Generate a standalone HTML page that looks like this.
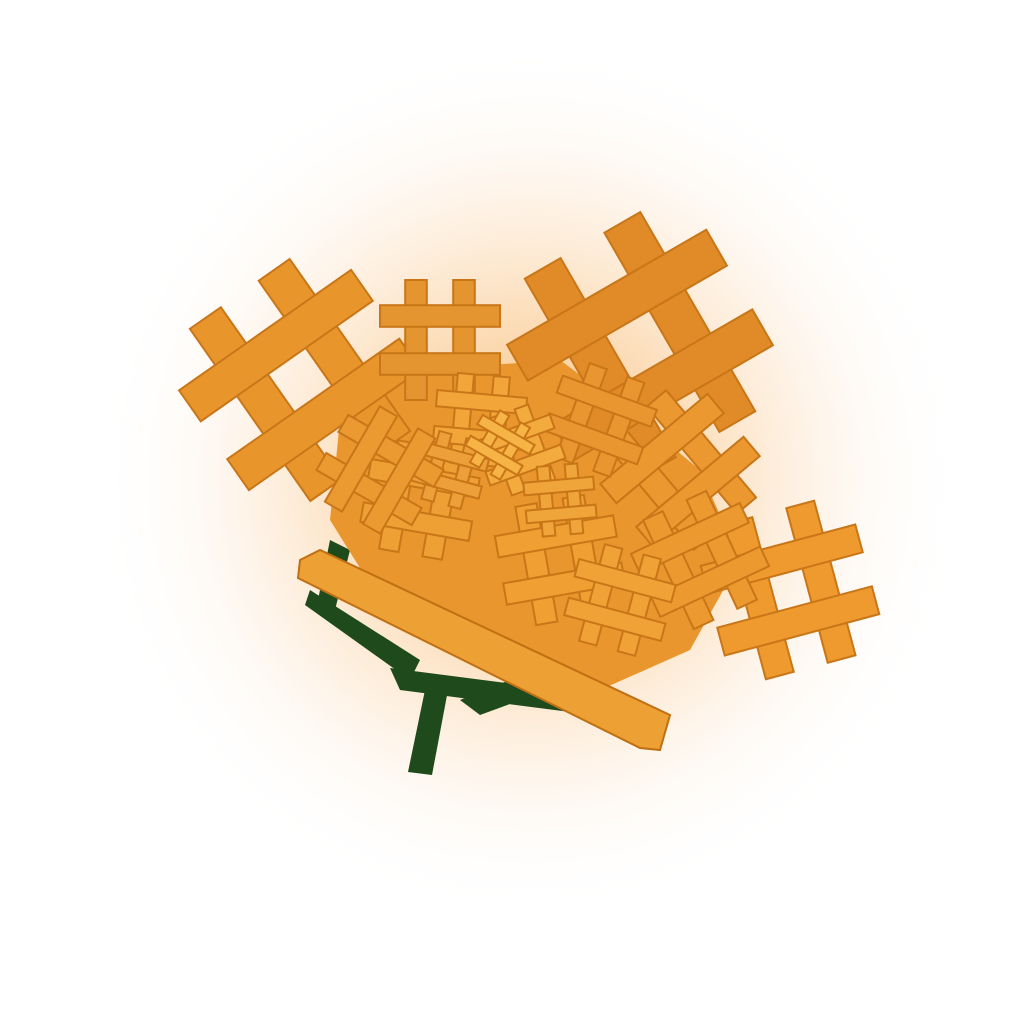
<!DOCTYPE html>
<html>
<head>
<meta charset="utf-8">
<style>
html,body{margin:0;padding:0;background:#fff;}
svg{display:block;}
</style>
</head>
<body>
<svg id="scene" width="1024" height="1024" viewBox="0 0 1024 1024" xmlns="http://www.w3.org/2000/svg">
  <defs>
    <radialGradient id="glow" cx="530" cy="480" r="440" gradientUnits="userSpaceOnUse">
      <stop offset="0" stop-color="#f6b060" stop-opacity="0.9"/>
      <stop offset="0.4" stop-color="#fbd3a4" stop-opacity="0.7"/>
      <stop offset="0.7" stop-color="#fdeede" stop-opacity="0.5"/>
      <stop offset="1" stop-color="#ffffff" stop-opacity="0"/>
    </radialGradient>
  </defs>
  <rect width="1024" height="1024" fill="#ffffff"/>
  <ellipse cx="530" cy="480" rx="460" ry="420" fill="url(#glow)"/>
  <g id="stem" fill="#1f4a1c">
    <polygon points="425,690 448,690 432,775 408,772"/>
    <polygon points="390,668 560,690 570,712 400,690"/>
    <polygon points="310,590 420,660 410,680 305,605"/>
    <polygon points="460,700 560,660 575,680 480,715"/>
    <polygon points="330,540 350,550 335,610 318,600"/>
  </g>
  <polygon points="340,420 420,370 560,360 640,420 700,470 740,560 690,650 600,690 520,680 440,640 380,600 330,520" fill="#e9962e"/>
  <g id="petals"></g>
</svg>
<script>
// petal hashes: centre x, centre y, size, rotation
const petalX = [300, 640, 790, 440, 680, 420, 560, 600, 480, 520, 450, 560, 500, 700, 380, 620];
const petalY = [380, 345, 590, 340, 470, 500, 560, 420, 420, 450, 470, 500, 445, 560, 470, 600];
const petalS = [210, 230, 160, 120, 140, 110, 120, 100, 90, 80, 70, 70, 60, 120, 110, 100];
const petalR = [-35, -30, -15, 0, -40, 10, -10, 20, 5, -20, 15, -5, 30, -25, -60, 15];
const petalC = ["#e8962c","#e08a28","#ee9a2e","#e59530","#ea982f","#efa035","#f0a032","#e99530","#f2a63a","#f4ab3e","#eda03a","#f0a53a","#f6b446","#ec9a30","#eb9a32","#f0a236"];

const NS = "http://www.w3.org/2000/svg";
const g = document.getElementById("petals");
function rect(parent, x, y, w, h, fill){
  const r = document.createElementNS(NS, "rect");
  r.setAttribute("x", x); r.setAttribute("y", y);
  r.setAttribute("width", w); r.setAttribute("height", h);
  r.setAttribute("fill", fill);
  r.setAttribute("stroke", "#c87618");
  r.setAttribute("stroke-width", "2");
  parent.appendChild(r);
}
for (let i = 0; i < petalX.length; i++) {
  const h = document.createElementNS(NS, "g");
  
  
  h.setAttribute("transform", `translate(${petalX[i]},${petalY[i]}) rotate(${petalR[i]})`);
  const s = petalS[i], w = s * 0.18, off = s * 0.2;
  rect(h, -off - w/2, -s/2, w, s, petalC[i]);
  rect(h, off - w/2, -s/2, w, s, petalC[i]);
  rect(h, -s/2, -off - w/2, s, w, petalC[i]);
  rect(h, -s/2, off - w/2, s, w, petalC[i]);
  g.appendChild(h);
}
// bottom flat petal
const bp = document.createElementNS(NS, "polygon");


bp.setAttribute("points", "300,560 320,550 670,715 660,750 640,748 298,578");
bp.setAttribute("fill", "#eda034");
bp.setAttribute("stroke", "#c06f12");
bp.setAttribute("stroke-width", "2");
g.appendChild(bp);
</script>
</body>
</html>
